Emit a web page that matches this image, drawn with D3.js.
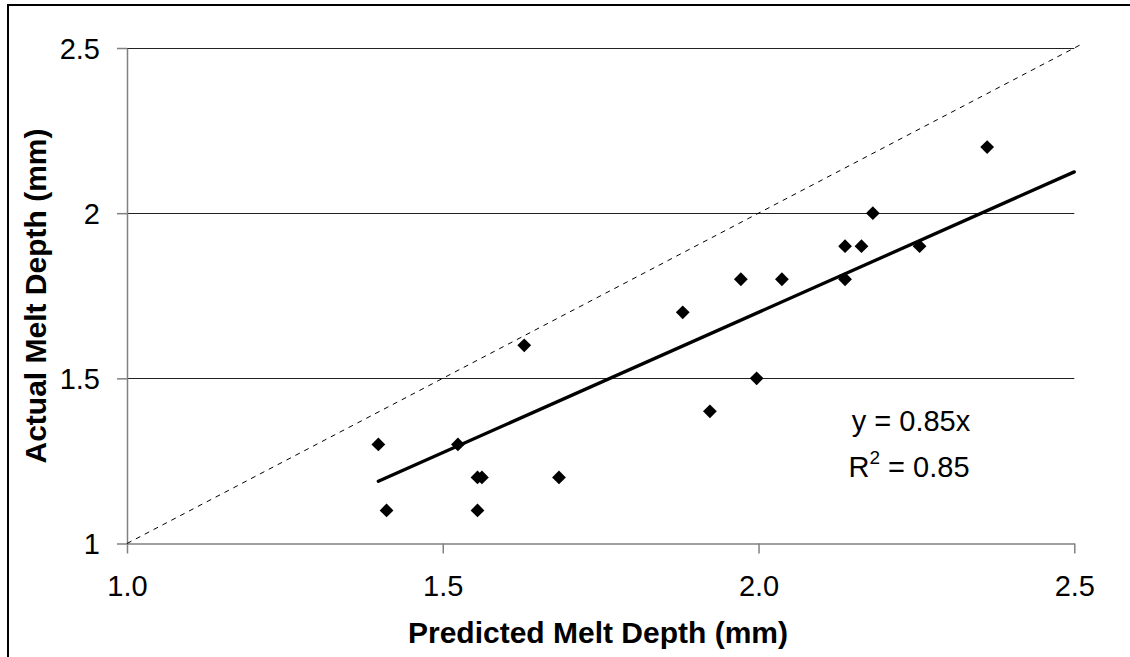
<!DOCTYPE html>
<html>
<head>
<meta charset="utf-8">
<script src="https://cdn.jsdelivr.net/npm/d3@7"></script>
<style>
  body { margin: 0; background: #fff; }
  text { font-family: "Liberation Sans", Arial, sans-serif; fill: #000; }
</style>
</head>
<body>
<svg id="chart" width="1130" height="657"></svg>
<script>
// data
let predicted = [1.398, 1.411, 1.524, 1.555, 1.562, 1.555, 1.629, 1.684, 1.880, 1.923,
                 1.972, 1.997, 2.037, 2.137, 2.137, 2.163, 2.181, 2.255, 2.362];
let actual    = [1.3, 1.1, 1.3, 1.2, 1.2, 1.1, 1.6, 1.2, 1.7, 1.4,
                 1.8, 1.5, 1.8, 1.8, 1.9, 1.9, 2.0, 1.9, 2.2];
let xTicks = [1.0, 1.5, 2.0, 2.5];
let yTicks = [1, 1.5, 2, 2.5];
let slope = 0.85;
let eqText = "y = 0.85x";
let r2Text = "0.85";

let points = predicted.map((p, i) => ({x: p, y: actual[i]}));

let svg = d3.select("#chart");

// outer chart frame (runs past right/bottom edge of the picture)
svg.append("rect")
  .attr("x", 8).attr("y", 5)
  .attr("width", 1300).attr("height", 900)
  .attr("fill", "none")
  .attr("stroke", "#000")
  .attr("stroke-width", 2);

let x = d3.scaleLinear().domain([1, 2.5]).range([127, 1074.3]);
let y = d3.scaleLinear().domain([1, 2.5]).range([543.5, 48]);

// gridlines
svg.append("g")
  .selectAll("line")
  .data(yTicks.filter(d => d > 1))
  .enter()
  .append("line")
  .attr("x1", x(1)).attr("x2", x(2.5))
  .attr("y1", d => Math.round(y(d)) + 0.5)
  .attr("y2", d => Math.round(y(d)) + 0.5)
  .attr("stroke", "#222")
  .attr("stroke-width", 1);

// axes
let xAxis = svg.append("g")
  .attr("transform", `translate(0,${y(1)})`)
  .call(d3.axisBottom(x).tickValues(xTicks).tickFormat(d3.format(".1f"))
        .tickSize(10).tickSizeOuter(0).tickPadding(22));

let yAxis = svg.append("g")
  .attr("transform", `translate(${x(1)},0)`)
  .call(d3.axisLeft(y).tickValues(yTicks).tickFormat(d => String(d))
        .tickSize(10).tickSizeOuter(0).tickPadding(17));

[xAxis, yAxis].forEach(g => {
  g.select(".domain").attr("stroke", "#808080").attr("stroke-width", 1.5);
  g.selectAll(".tick line").attr("stroke", "#808080").attr("stroke-width", 1.5);
  g.selectAll(".tick text")
    .style("font-family", '"Liberation Sans", Arial, sans-serif')
    .style("font-size", "29px")
    .attr("fill", "#000");
});
xAxis.selectAll(".tick text").attr("dy", "0.71em");
yAxis.selectAll(".tick text").attr("dy", "0.36em");

// 1:1 line
svg.append("line")
  .attr("x1", x(1)).attr("y1", y(1))
  .attr("x2", x(2.51)).attr("y2", y(2.51))
  .attr("stroke", "#000")
  .attr("stroke-width", 1)
  .attr("stroke-dasharray", "5,5");

// trend line y = 0.85x
let xMin = d3.min(predicted);
svg.append("line")
  .attr("x1", x(xMin)).attr("y1", y(slope * xMin))
  .attr("x2", x(2.5)).attr("y2", y(slope * 2.5))
  .attr("stroke", "#000")
  .attr("stroke-width", 3.3)
  .attr("stroke-linecap", "round");

// diamond markers
svg.append("g")
  .selectAll("path")
  .data(points)
  .enter()
  .append("path")
  .attr("d", d3.symbol().type(d3.symbolSquare).size(95))
  .attr("transform", d => `translate(${x(d.x)},${y(d.y)}) rotate(45)`)
  .attr("fill", "#000");

// equation label
svg.append("text")
  .attr("x", 911).attr("y", 431)
  .attr("text-anchor", "middle")
  .style("font-size", "29px")
  .text(eqText);

let r2 = svg.append("text")
  .attr("x", 909).attr("y", 477)
  .attr("text-anchor", "middle")
  .style("font-size", "29px");
r2.append("tspan").text("R");
r2.append("tspan").attr("dy", -13).style("font-size", "19px").text("2");
r2.append("tspan").attr("dy", 13).text(" = " + r2Text);

// axis titles
svg.append("text")
  .attr("x", 598).attr("y", 643)
  .attr("text-anchor", "middle")
  .style("font-size", "30px")
  .style("font-weight", "bold")
  .text("Predicted Melt Depth (mm)");

svg.append("text")
  .attr("transform", "translate(46,296) rotate(-90)")
  .attr("text-anchor", "middle")
  .style("font-size", "30px")
  .style("font-weight", "bold")
  .text("Actual Melt Depth (mm)");
</script>
</body>
</html>
